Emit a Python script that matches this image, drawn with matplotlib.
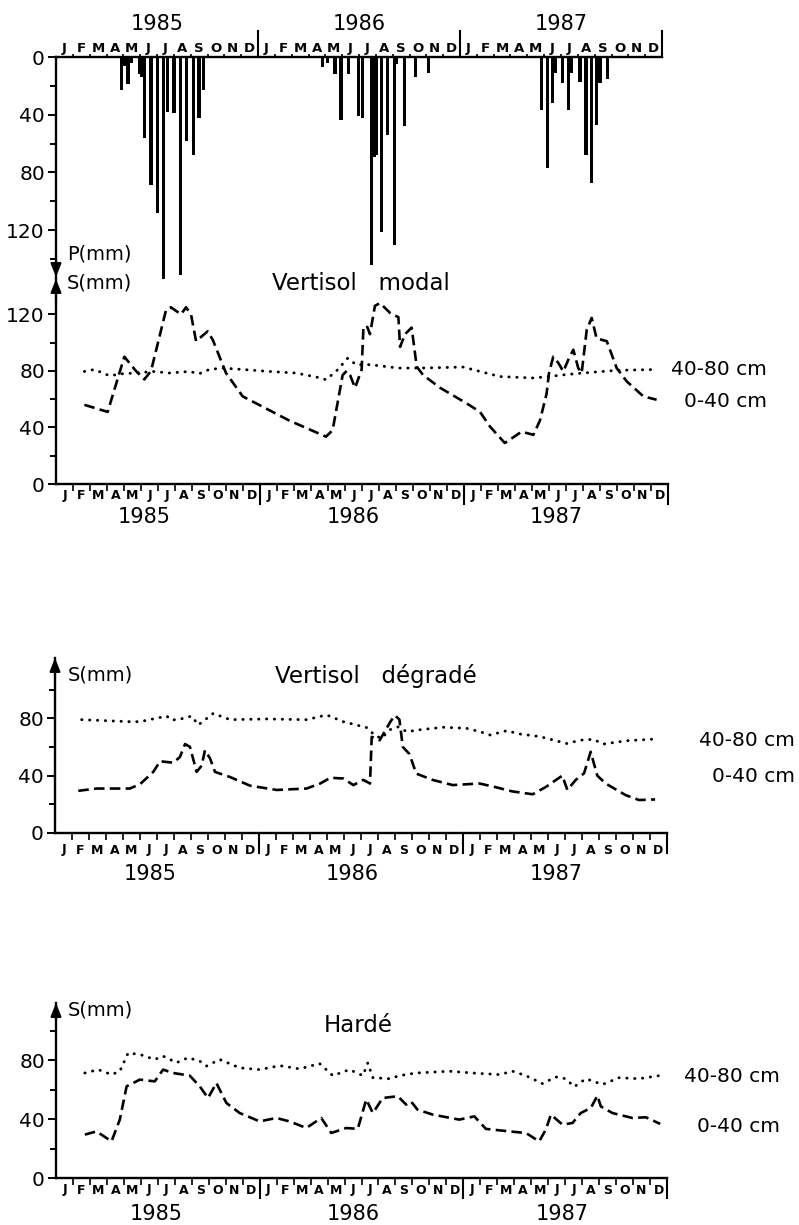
# coding=utf-8
import numpy as np
import matplotlib
matplotlib.use("Agg")
import matplotlib.pyplot as plt
import matplotlib.transforms as mtransforms

plt.rcParams["font.family"] = ["DejaVu Sans"]

W, H = 799, 1225

months = ["J", "F", "M", "A", "M", "J", "J", "A", "S", "O", "N", "D"]
years = ["1985", "1986", "1987"]
depthLabels = ["40-80 cm", "0-40 cm"]

# pluie : temps en mois depuis le 1er janvier 1985, hauteur en mm
rainT = [3.90, 4.05, 4.28, 4.46, 4.99, 5.11, 5.25, 5.64, 6.04, 6.38, 6.64, 7.01, 7.41, 7.77, 8.16, 8.50, 8.78,
         15.85, 16.14, 16.58, 16.93, 17.37, 17.96, 18.20, 18.72, 18.89, 19.05, 19.35, 19.69, 20.12, 20.24,
         20.72, 21.37, 22.12,
         28.82, 29.22, 29.49, 29.65, 30.11, 30.44, 30.64, 31.13, 31.49, 31.83, 32.13, 32.32, 32.76]
rainMm = [23, 6, 19, 4, 12, 14, 56, 89, 108, 168, 38, 39, 151, 58, 68, 42, 23,
          7, 4, 12, 44, 12, 41, 42, 144, 69, 68, 121, 54, 130, 5,
          48, 14, 11,
          37, 77, 32, 11, 18, 37, 11, 17, 68, 87, 47, 18, 15]

# Vertisol modal
modalT040 = [1.67, 3.04, 4.02, 4.7, 5.2, 5.59, 6.47, 6.76, 7.35, 7.65, 7.94, 8.24, 8.92, 9.22, 10.0, 10.98,
             13.7, 15.88, 16.27, 16.86, 17.1, 17.3, 17.59, 17.98, 18.08, 18.28, 18.47, 18.76, 19.06, 19.65,
             20.14, 20.24, 20.53, 20.92, 21.22, 21.6, 22.6, 24.16, 24.94, 25.53, 26.4, 27.39, 28.08, 28.47,
             28.86, 29.0, 29.25, 29.55, 29.84, 30.14, 30.43, 30.72, 30.92, 31.22, 31.51, 31.8, 32.4, 32.98,
             33.57, 34.55, 35.33]
modalS040 = [56, 51, 90, 80, 74, 80, 123, 125, 120, 125, 120, 101, 108, 102, 78.5, 62,
             45, 33.5, 38, 77, 80, 77, 68, 81, 110, 112, 106, 126, 128, 121,
             118, 97, 106, 110.6, 83, 77, 68, 57, 51, 40.6, 29, 37, 34.8, 45,
             64, 78.5, 90, 85.6, 79.6, 88, 95, 82, 78.5, 109, 117.5, 103, 101, 82,
             72.6, 62, 59.6]
modalT4080 = [1.67, 2.25, 3.14, 3.92, 4.7, 5.69, 6.67, 7.84, 8.43, 9.02, 9.8, 10.98, 12.55, 14.1, 15.3,
              15.88, 16.47, 17.16, 17.65, 18.47, 20.14, 21.4, 23.96, 24.94, 26.1, 28.08, 28.96, 29.94,
              31.0, 32.98, 35.33]
modalS4080 = [79.6, 81, 76.6, 78, 78.5, 79.6, 78.5, 79.6, 78, 81, 82, 81, 79.6, 78.5, 75.7,
              73.8, 79.6, 89, 84.4, 84.4, 82, 82, 82.7, 79.6, 76, 75, 76, 77.3,
              78.5, 80.4, 81]

# Vertisol degrade
degT040 = [1.37, 2.45, 4.4, 5.0, 5.78, 6.18, 6.96, 7.35, 7.65, 7.94, 8.33, 8.63, 8.82, 9.12, 9.41, 10.3,
           11.47, 13.04, 14.8, 15.6, 16.2, 16.96, 17.55, 18.14, 18.53, 18.63, 19.1, 19.75, 20.0, 20.26,
           20.46, 20.85, 21.25, 22.22, 23.4, 24.97, 25.9, 26.9, 28.1, 28.86, 29.84, 30.14, 30.63, 31.12,
           31.51, 31.9, 32.39, 33.57, 34.35, 35.3]
degS040 = [29.4, 31, 31, 34, 42.6, 50, 49, 53, 62, 60, 42.6, 47, 57.7, 52, 42.6, 39,
           33, 30, 31, 34.5, 38.5, 38, 33.4, 37, 34.5, 67, 64.7, 78, 82, 79,
           60, 55, 41.4, 37, 33.4, 34.5, 32, 29, 27, 32, 40, 30, 37, 41.6,
           56.6, 40, 34.5, 26.4, 23, 23.4]
degT4080 = [1.57, 4.41, 5.0, 6.57, 6.86, 7.4, 8.04, 8.43, 9.31, 10.3, 12.45, 14.8, 15.98, 16.96, 18.33,
            18.82, 19.2, 19.7, 20.2, 20.69, 21.47, 22.84, 24.2, 25.0, 25.6, 26.57, 27.35, 28.53, 30.1,
            30.9, 31.67, 32.25, 33.6, 35.3]
degS4080 = [79, 77.6, 77.6, 81.5, 78.7, 79.5, 81.5, 75.3, 83.4, 79, 79.5, 79, 82.3, 77.6, 73.5,
            68, 66, 72, 74, 70.6, 72, 73.7, 73, 70.6, 68.3, 71.3, 69, 67.2, 62.4,
            64.7, 65.3, 62, 64.3, 65.5]

# Harde
hardT040 = [1.7, 2.39, 3.27, 3.76, 4.16, 4.94, 5.82, 6.31, 6.9, 7.88, 8.47, 8.96, 9.45, 10.04, 10.82, 12.0,
            12.98, 13.76, 14.75, 15.63, 16.22, 17.1, 17.78, 18.28, 18.67, 19.25, 20.14, 20.63, 20.92, 21.3,
            22.2, 23.76, 24.65, 25.33, 26.7, 27.69, 28.47, 28.86, 29.16, 29.84, 30.43, 30.92, 31.51, 31.9,
            32.1, 32.78, 33.96, 34.75, 35.6]
hardS040 = [29.5, 31.7, 24.9, 39.7, 62.3, 66.9, 65.7, 73.7, 71.4, 69.6, 62.3, 54.4, 64.6, 51, 44.2, 38.5,
            40.8, 38.5, 34, 40.8, 30.6, 34, 33.4, 53.4, 44.2, 54.4, 55.6, 49.9, 52, 46.5,
            43.1, 39.7, 41.9, 33.4, 31.7, 30.6, 24.9, 32.9, 43.1, 36.3, 37.4, 44.2, 47.6, 56,
            48.7, 44.2, 40.8, 41.3, 36.8]
hardT4080 = [1.7, 2.49, 3.27, 3.76, 4.25, 4.94, 5.82, 6.31, 7.1, 7.78, 8.47, 8.86, 9.65, 10.82, 12.0,
             13.18, 14.35, 15.53, 16.31, 17.29, 18.08, 18.37, 18.67, 19.65, 20.24, 21.2, 23.18, 24.55,
             26.12, 26.9, 27.69, 28.66, 29.45, 30.04, 30.53, 31.22, 32.2, 33.18, 34.35, 35.53]
hardS4080 = [71.4, 73.7, 70.3, 72.6, 85, 84, 80.6, 82.9, 78.4, 81.8, 79.5, 76.1, 80.6, 74.9, 73.7,
             76.4, 74.2, 77.8, 69.6, 73.7, 69.6, 78.2, 68.2, 67.5, 69.6, 71.4, 72.6, 71.4,
             70.3, 72.6, 69.6, 64.2, 68.7, 67.5, 62, 67.5, 63.6, 68.2, 67.5, 69.6]

fig = plt.figure(figsize=(W / 100, H / 100), dpi=100)


def pxRect(x0, x1, yTop, yBottom):
    return [x0 / W, 1 - yBottom / H, (x1 - x0) / W, (yBottom - yTop) / H]


def figText(x, y, s, **kw):
    fig.text(x / W, 1 - y / H, s, va="center", **kw)


def axisArrow(ax, yFrom, yTo):
    ax.annotate("", xy=(0, yTo), xytext=(0, yFrom), xycoords="axes fraction",
                arrowprops=dict(arrowstyle="-|>,head_width=0.32,head_length=0.8", color="black",
                                lw=1.5, shrinkA=0, shrinkB=0))


def monthLabels(ax, yAx, dyPx, size):
    trans = mtransforms.blended_transform_factory(ax.transData, ax.transAxes)
    for i in range(36):
        ax.annotate(months[i % 12], xy=(i + 0.5, yAx), xycoords=trans, xytext=(0, dyPx * 0.72),
                    textcoords="offset points", ha="center", va="center", fontsize=size,
                    fontweight="bold", annotation_clip=False)


def yearLines(ax, y0, y1):
    trans = mtransforms.blended_transform_factory(ax.transData, ax.transAxes)
    for t in [12, 24, 36]:
        ax.plot([t, t], [y0, y1], color="black", lw=1.5, transform=trans, clip_on=False)


# pluie
axP = fig.add_axes(pxRect(56, 662, 57, 277))
axP.bar(rainT, rainMm, width=0.19, color="black", clip_on=False)
axP.set_xlim(0, 36)
axP.set_ylim(152.5, 0)
axP.spines[["right", "bottom"]].set_visible(False)
axP.spines[["left", "top"]].set_linewidth(1.7)
axP.set_yticks([0, 40, 80, 120])
axP.set_yticks([20, 60, 100, 140], minor=True)
axP.tick_params(axis="y", which="major", length=6, width=1.4, labelsize=14.5, pad=2)
axP.tick_params(axis="y", which="minor", length=4, width=1.4)
axP.xaxis.set_ticks_position("top")
axP.set_xticks(np.arange(1, 37))
axP.tick_params(axis="x", which="major", length=2.5, width=1.2, labeltop=False, labelbottom=False)
monthLabels(axP, 1, 9, 9.5)
yearLines(axP, 1, 1 + 26 / 220)
axisArrow(axP, 0.1, 0)
for i, y in enumerate(years):
    figText(56 + 16.83 * (6 + 12 * i), 24, y, ha="center", fontsize=15)
figText(67, 254, "P(mm)", ha="left", fontsize=14)


def soilPanel(rect, hPx, yTop, tDash, vDash, tDot, vDot, monthDy, yearDy, yearT, x0):
    ax = fig.add_axes(rect)
    ax.plot(tDot, vDot, color="black", lw=2.1, linestyle=(0, (0.1, 2.6)), dash_capstyle="round")
    ax.plot(tDash, vDash, color="black", lw=1.9, linestyle=(0, (4, 2)))
    ax.set_xlim(0, 36)
    ax.set_ylim(0, yTop)
    ax.spines[["right", "top"]].set_visible(False)
    ax.spines[["left", "bottom"]].set_linewidth(1.7)
    ax.set_yticks([0, 40, 80, 120] if yTop > 125 else [0, 40, 80])
    ax.set_yticks([20, 60, 100], minor=True)
    ax.tick_params(axis="y", which="major", length=6, width=1.4, labelsize=14.5, pad=2)
    ax.tick_params(axis="y", which="minor", length=4, width=1.4)
    ax.set_xticks(np.arange(1, 37))
    ax.tick_params(axis="x", which="major", length=5, width=1.2, labelbottom=False)
    monthLabels(ax, 0, -monthDy, 9)
    yearLines(ax, 0, -20 / hPx)
    axisArrow(ax, 0.9, 1)
    yAxis = rect[1]
    for i, y in enumerate(years):
        xPx = x0 + 17 * yearT[i]
        fig.text(xPx / W, yAxis - yearDy / H, y, ha="center", va="center", fontsize=15)
    return ax


soilPanel(pxRect(56, 668, 279, 484), 205, 145, modalT040, modalS040, modalT4080, modalS4080,
          11, 33, [5.2, 17.5, 29.4], 56)
figText(67, 283, "S(mm)", ha="left", fontsize=14)
figText(361, 284, "Vertisol   modal", ha="center", fontsize=16.5)
figText(767, 369, depthLabels[0], ha="right", fontsize=14.5)
figText(767, 402, depthLabels[1], ha="right", fontsize=14.5)

soilPanel(pxRect(55, 667, 658, 833), 175, 122, degT040, degS040, degT4080, degS4080,
          17, 41, [5.6, 17.5, 29.5], 55)
figText(68, 675, "S(mm)", ha="left", fontsize=14)
figText(376, 676, "Vertisol   dégradé", ha="center", fontsize=16.5)
figText(795, 741, depthLabels[0], ha="right", fontsize=14.5)
figText(795, 777, depthLabels[1], ha="right", fontsize=14.5)

soilPanel(pxRect(56, 667, 1003, 1178), 175, 119, hardT040, hardS040, hardT4080, hardS4080,
          12, 36, [5.9, 17.5, 29.8], 56)
figText(68, 1010, "S(mm)", ha="left", fontsize=14)
figText(358, 1026, "Hardé", ha="center", fontsize=16.5)
figText(780, 1076, depthLabels[0], ha="right", fontsize=14.5)
figText(780, 1126, depthLabels[1], ha="right", fontsize=14.5)

fig.savefig("out.png", dpi=100)
